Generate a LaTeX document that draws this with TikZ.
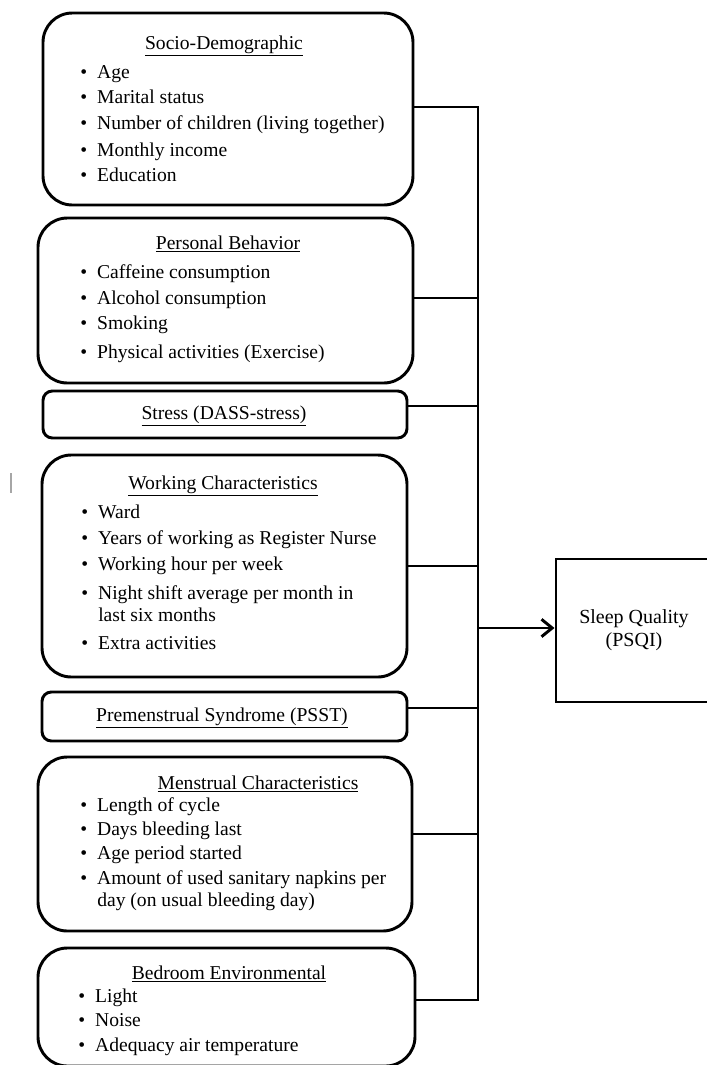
\documentclass[tikz,border=0pt]{standalone}
\usepackage{fontspec}
\setmainfont{Liberation Serif}
\usetikzlibrary{arrows.meta}

\begin{document}
\begin{tikzpicture}[x=0.75pt, y=-0.75pt,
    box/.style={draw, line width=2.2pt, rounded corners=22pt, inner sep=0pt},
    flatbox/.style={box, rounded corners=7pt},
    head/.style={anchor=base, inner sep=0pt, font=\fontsize{14.7}{17}\selectfont},
    item/.style={anchor=base west, inner sep=0pt, font=\fontsize{14.7}{17}\selectfont},
    link/.style={line width=2.2pt}]
    % Page frame (picture runs off the right and bottom edge)
    \useasboundingbox (0,0) rectangle (707,1065);
    \clip (0,0) rectangle (707,1065);

    % Factor boxes
    \node[box, minimum width=277.5pt, minimum height=144pt] (socio) at (228,109) {};
    \node[box, minimum width=281.25pt, minimum height=123.75pt] (behav) at (225.5,300.5) {};
    \node[flatbox, minimum width=273pt, minimum height=35.25pt] (stress) at (225,414.5) {};
    \node[box, minimum width=273.75pt, minimum height=166.5pt] (work) at (224.5,566) {};
    \node[flatbox, minimum width=273.75pt, minimum height=36.75pt] (pms) at (224.5,716.5) {};
    \node[box, minimum width=280.5pt, minimum height=130.5pt] (mens) at (225,844) {};
    \node[box, minimum width=282.75pt, minimum height=88.5pt] (bedroom) at (226.5,1007) {};

    % Outcome box
    \node[draw, line width=2.2pt, minimum width=117pt, minimum height=107.25pt, align=center,
          font=\fontsize{15}{17.25}\selectfont] (sleep) at (634,630.5) {Sleep Quality\\(PSQI)};

    % Titles
    \node[head] (socioT) at (224,49) {\underline{Socio-Demographic}};
    \node[head] (behavT) at (228,249) {\underline{Personal Behavior}};
    \node[head] (stressT) at (224,419) {\underline{Stress (DASS-stress)}};
    \node[head] (workT) at (223,489) {\underline{Working Characteristics}};
    \node[head] (pmsT) at (222,721) {\underline{Premenstrual Syndrome (PSST)}};
    \node[head] (mensT) at (258,789) {\underline{Menstrual Characteristics}};
    \node[head] (bedroomT) at (229,979) {\underline{Bedroom Environmental}};

    % Bullet items
    \foreach \y/\txt [count=\i] in {78/Age, 103/Marital status,
        129/Number of children (living together), 156/Monthly income, 181/Education}
      \node[item] (socio\i) at (80,\y) {\textbullet\hspace{7.5pt}\txt};
    \foreach \y/\txt [count=\i] in {278/Caffeine consumption, 304/Alcohol consumption,
        329/Smoking, 358/Physical activities (Exercise)}
      \node[item] (behav\i) at (80,\y) {\textbullet\hspace{7.5pt}\txt};
    \foreach \y/\txt [count=\i] in {518/Ward, 544/Years of working as Register Nurse,
        570/Working hour per week, 599/Night shift average per month in, 649/Extra activities}
      \node[item] (work\i) at (81,\y) {\textbullet\hspace{7.5pt}\txt};
    \node[item] (work4b) at (98,621) {last six months};
    \foreach \y/\txt [count=\i] in {811/Length of cycle, 835/Days bleeding last,
        859/Age period started, 884/Amount of used sanitary napkins per}
      \node[item] (mens\i) at (80,\y) {\textbullet\hspace{7.5pt}\txt};
    \node[item] (mens4b) at (97,906) {day (on usual bleeding day)};
    \foreach \y/\txt [count=\i] in {1002/Light, 1026/Noise, 1051/Adequacy air temperature}
      \node[item] (bedroom\i) at (78,\y) {\textbullet\hspace{7.5pt}\txt};

    % Collecting line
    \coordinate (bustop) at (478,107);
    \coordinate (busbot) at (478,1000);
    \draw[link] (socio.east |- bustop) -- (bustop) -- (busbot) -- (bedroom.east |- busbot);
    \foreach \n/\y in {behav/298, stress/406, work/566, pms/708, mens/834}
      \draw[link] (\n.east |- 0,\y) -- (bustop |- 0,\y);

    % Arrow to outcome
    \draw[link, -{Straight Barb[length=8pt, width=13pt]}] (bustop |- 0,628) -- (sleep.west |- 0,628);

    % Stray text cursor mark
    \draw[gray!70, line width=0.9pt] (11,473) -- (11,493);
  \end{tikzpicture}
\end{document}
